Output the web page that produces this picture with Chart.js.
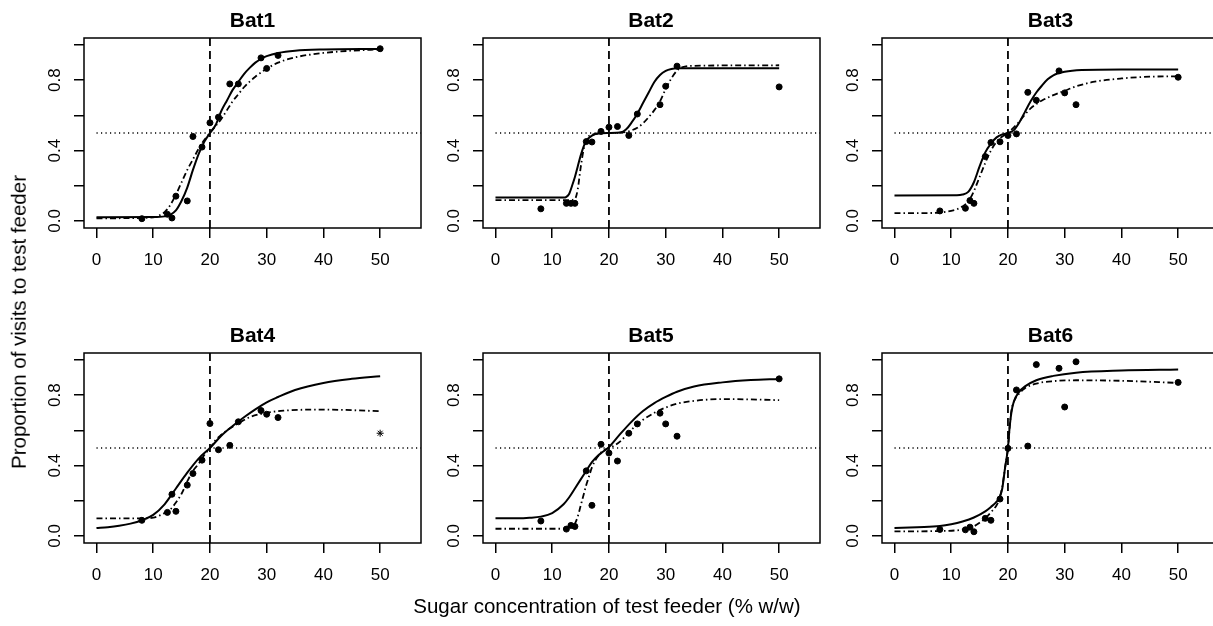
<!DOCTYPE html>
<html>
<head>
<meta charset="utf-8">
<script src="https://cdn.jsdelivr.net/npm/chart.js@4.4.0/dist/chart.umd.min.js"></script>
<style>
html,body{margin:0;padding:0;background:#fff;}
#wrap{position:relative;width:1213px;height:626px;overflow:hidden;background:#fff;font-family:"Liberation Sans",Arial,Helvetica,sans-serif;color:#000;}
.pc{position:absolute;width:431px;height:300px;}
.pc canvas{display:block;}
.ttl{position:absolute;font-weight:bold;font-size:21px;line-height:1;transform:translate(-50%,-50%);white-space:nowrap;z-index:5;}
#xt{position:absolute;left:607px;top:606px;font-size:20.5px;line-height:1;transform:translate(-50%,-50%);white-space:nowrap;z-index:5;}
#yt{position:absolute;left:19px;top:322px;font-size:20.5px;line-height:1;transform:translate(-50%,-50%) rotate(-90deg);white-space:nowrap;z-index:5;}
</style>
</head>
<body>
<div id="wrap">
  <div id="xt">Sugar concentration of test feeder (% w/w)</div>
  <div id="yt">Proportion of visits to test feeder</div>
</div>
<script>
// ---------- data ----------
const titles = ["Bat1", "Bat2", "Bat3", "Bat4", "Bat5", "Bat6"];
const concentrations = [8, 12.5, 13.3, 14, 16, 17, 18.6, 20, 21.5, 23.5, 25, 29, 30, 32, 50];
const xTickValues = [0, 10, 20, 30, 40, 50];
const yTickValues = [0, 0.2, 0.4, 0.6, 0.8, 1.0];
const yLabelValues = [0, 0.4, 0.8];
const referenceConcentration = 20;
const referenceProportion = 0.5;
const starredConcentrationBat4 = 50;

const bat1Obs = [0.013, 0.038, 0.017, 0.141, 0.114, 0.48, 0.42, 0.558, 0.59, 0.779, 0.779, 0.927, 0.867, 0.941, 0.979];
const bat2Obs = [0.069, 0.10, 0.10, 0.10, 0.451, 0.449, 0.509, 0.533, 0.537, 0.486, 0.608, 0.661, 0.766, 0.88, 0.762];
const bat3Obs = [0.057, 0.072, 0.116, 0.10, 0.366, 0.446, 0.45, 0.486, 0.495, 0.731, 0.686, 0.853, 0.728, 0.661, 0.817];
const bat4Obs = [0.089, 0.134, 0.237, 0.14, 0.289, 0.355, 0.431, 0.639, 0.49, 0.515, 0.649, 0.713, 0.692, 0.673, 0.584];
const bat5Obs = [0.085, 0.039, 0.06, 0.054, 0.37, 0.174, 0.521, 0.471, 0.426, 0.584, 0.637, 0.698, 0.637, 0.567, 0.893];
const bat6Obs = [0.037, 0.035, 0.05, 0.024, 0.10, 0.089, 0.21, 0.498, 0.83, 0.511, 0.974, 0.953, 0.733, 0.99, 0.873];

const bat1SolidX = [0, 10, 12, 13, 14, 15, 16, 17, 18, 19, 20, 21, 22, 23, 24, 25, 26, 27, 28, 29, 30, 32, 35, 40, 50];
const bat1SolidY = [0.021, 0.022, 0.026, 0.035, 0.06, 0.115, 0.19, 0.29, 0.38, 0.45, 0.5, 0.545, 0.625, 0.685, 0.745, 0.79, 0.835, 0.87, 0.9, 0.922, 0.937, 0.955, 0.968, 0.975, 0.978];
const bat1DashX = [0, 10, 11, 12, 13, 14, 15, 16, 17, 18, 19, 20, 21, 22, 23, 24, 25, 26, 28, 30, 32, 35, 40, 45, 50];
const bat1DashY = [0.015, 0.02, 0.03, 0.05, 0.09, 0.15, 0.22, 0.29, 0.35, 0.41, 0.46, 0.5, 0.54, 0.58, 0.63, 0.68, 0.72, 0.76, 0.82, 0.865, 0.9, 0.93, 0.955, 0.968, 0.975];

const bat2SolidX = [0, 12, 12.5, 13, 13.5, 14, 14.5, 15, 15.5, 16, 17, 18, 20, 22, 23, 24, 25, 26, 27, 28, 29, 30, 31, 32, 50];
const bat2SolidY = [0.133, 0.133, 0.137, 0.155, 0.2, 0.25, 0.31, 0.37, 0.42, 0.455, 0.485, 0.497, 0.5, 0.503, 0.52, 0.56, 0.61, 0.67, 0.73, 0.79, 0.83, 0.853, 0.864, 0.868, 0.868];
const bat2DashX = [0, 13, 14, 14.5, 15, 15.5, 16, 17, 20, 23, 24, 25, 26, 27, 28, 29, 30, 31, 32, 33, 35, 50];
const bat2DashY = [0.118, 0.118, 0.125, 0.18, 0.30, 0.40, 0.46, 0.49, 0.5, 0.505, 0.515, 0.53, 0.555, 0.59, 0.63, 0.68, 0.75, 0.81, 0.855, 0.875, 0.882, 0.885];

const bat3SolidX = [0, 11, 12, 13, 14, 15, 16, 17, 18, 19, 20, 21, 22, 23, 24, 25, 26, 27, 28, 30, 33, 40, 50];
const bat3SolidY = [0.145, 0.146, 0.15, 0.165, 0.22, 0.31, 0.39, 0.44, 0.475, 0.492, 0.5, 0.515, 0.56, 0.62, 0.68, 0.73, 0.77, 0.805, 0.828, 0.848, 0.858, 0.861, 0.861];
const bat3DashX = [0, 6, 8, 10, 11, 12, 13, 14, 15, 16, 17, 18, 19, 20, 21, 22, 23, 24, 25, 26, 28, 30, 32, 35, 40, 45, 50];
const bat3DashY = [0.044, 0.045, 0.048, 0.058, 0.066, 0.083, 0.11, 0.17, 0.25, 0.33, 0.40, 0.45, 0.48, 0.5, 0.53, 0.565, 0.605, 0.64, 0.665, 0.685, 0.715, 0.74, 0.765, 0.79, 0.81, 0.82, 0.822];

const bat4SolidX = [0, 2, 4, 6, 8, 10, 12, 14, 16, 18, 20, 22, 24, 26, 28, 30, 32, 35, 40, 45, 50];
const bat4SolidY = [0.045, 0.05, 0.058, 0.07, 0.089, 0.12, 0.18, 0.27, 0.36, 0.44, 0.5, 0.57, 0.625, 0.675, 0.72, 0.76, 0.79, 0.83, 0.87, 0.893, 0.908];
const bat4DashX = [0, 8, 10, 12, 13, 14, 15, 16, 17, 18, 19, 20, 21, 22, 23, 25, 27, 30, 33, 38, 43, 50];
const bat4DashY = [0.10, 0.10, 0.104, 0.13, 0.15, 0.19, 0.24, 0.31, 0.37, 0.41, 0.46, 0.5, 0.545, 0.575, 0.6, 0.64, 0.675, 0.70, 0.712, 0.718, 0.717, 0.709];

const bat5SolidX = [0, 4, 6, 8, 10, 12, 13, 14, 15, 16, 17, 18, 19, 20, 22, 24, 26, 28, 30, 32, 35, 40, 45, 50];
const bat5SolidY = [0.10, 0.10, 0.103, 0.11, 0.13, 0.18, 0.22, 0.27, 0.32, 0.37, 0.42, 0.455, 0.48, 0.505, 0.58, 0.65, 0.71, 0.755, 0.79, 0.82, 0.85, 0.873, 0.886, 0.892];
const bat5DashX = [0, 13, 13.5, 14, 14.5, 15, 15.5, 16, 16.5, 17, 18, 19, 20, 21, 22, 23, 24, 25, 26, 28, 30, 32, 35, 40, 45, 50];
const bat5DashY = [0.041, 0.041, 0.045, 0.07, 0.11, 0.17, 0.23, 0.29, 0.34, 0.39, 0.45, 0.485, 0.5, 0.515, 0.538, 0.57, 0.605, 0.635, 0.66, 0.70, 0.73, 0.752, 0.768, 0.778, 0.776, 0.772];

const bat6SolidX = [0, 4, 8, 10, 12, 14, 16, 17, 18, 18.5, 19, 19.5, 20, 20.3, 20.6, 21, 22, 23, 25, 28, 32, 40, 50];
const bat6SolidY = [0.045, 0.05, 0.056, 0.066, 0.082, 0.105, 0.14, 0.165, 0.195, 0.22, 0.27, 0.39, 0.5, 0.62, 0.70, 0.76, 0.82, 0.85, 0.885, 0.91, 0.928, 0.94, 0.946];
const bat6DashX = [0, 8, 11, 12, 13, 14, 15, 16, 17, 18, 18.5, 19, 19.5, 20, 20.3, 20.6, 21, 22, 23, 25, 28, 32, 40, 50];
const bat6DashY = [0.026, 0.028, 0.032, 0.036, 0.043, 0.055, 0.075, 0.10, 0.135, 0.175, 0.21, 0.28, 0.39, 0.5, 0.62, 0.71, 0.76, 0.81, 0.84, 0.866, 0.88, 0.885, 0.882, 0.87];

// ---------- layout ----------
const X_MIN = -2.2, X_MAX = 57.2, Y_MIN = -0.04, Y_MAX = 1.04;
const boxLeft = [84, 482.5, 882];
const boxTop = [38, 353];
const BOX_W = 337, BOX_H = 190;
const FONT = '"Liberation Sans", Arial, Helvetica, sans-serif';

const panels = [
  {obs: bat1Obs, sx: bat1SolidX, sy: bat1SolidY, dx: bat1DashX, dy: bat1DashY},
  {obs: bat2Obs, sx: bat2SolidX, sy: bat2SolidY, dx: bat2DashX, dy: bat2DashY},
  {obs: bat3Obs, sx: bat3SolidX, sy: bat3SolidY, dx: bat3DashX, dy: bat3DashY},
  {obs: bat4Obs, sx: bat4SolidX, sy: bat4SolidY, dx: bat4DashX, dy: bat4DashY, star: starredConcentrationBat4},
  {obs: bat5Obs, sx: bat5SolidX, sy: bat5SolidY, dx: bat5DashX, dy: bat5DashY},
  {obs: bat6Obs, sx: bat6SolidX, sy: bat6SolidY, dx: bat6DashX, dy: bat6DashY}
];

const rPlot = {
  id: 'rPlot',
  afterDraw(chart) {
    const ctx = chart.ctx, a = chart.chartArea, y = chart.scales.y;
    ctx.save();
    ctx.strokeStyle = '#000';
    ctx.lineWidth = 1.5;
    ctx.strokeRect(a.left, a.top, a.right - a.left, a.bottom - a.top);
    ctx.fillStyle = '#000';
    ctx.font = '17px ' + FONT;
    ctx.textAlign = 'center';
    ctx.textBaseline = 'middle';
    yLabelValues.forEach(v => {
      const py = y.getPixelForValue(v);
      ctx.save();
      ctx.translate(a.left - 29, py);
      ctx.rotate(-Math.PI / 2);
      ctx.fillText(v.toFixed(1), 0, 0);
      ctx.restore();
    });
    ctx.restore();
  }
};

const wrap = document.getElementById('wrap');

panels.forEach((p, i) => {
  const col = i % 3, row = Math.floor(i / 3);
  const L = boxLeft[col], T = boxTop[row];

  const ttl = document.createElement('div');
  ttl.className = 'ttl';
  ttl.textContent = titles[i];
  ttl.style.left = (L + BOX_W / 2) + 'px';
  ttl.style.top = (T - 19.5) + 'px';
  wrap.appendChild(ttl);

  const div = document.createElement('div');
  div.className = 'pc';
  div.style.left = (L - 84) + 'px';
  div.style.top = (T - 38) + 'px';
  const cv = document.createElement('canvas');
  cv.width = 431; cv.height = 300;
  cv.style.width = '431px'; cv.style.height = '300px';
  div.appendChild(cv);
  wrap.appendChild(div);

  const obsPts = concentrations.map((x, k) => ({x: x, y: p.obs[k]}));
  const styles = concentrations.map(x => (p.star !== undefined && x === p.star) ? 'star' : 'circle');
  const radii = concentrations.map(x => (p.star !== undefined && x === p.star) ? 3.5 : 3);

  new Chart(cv.getContext('2d'), {
    type: 'scatter',
    data: {
      datasets: [
        {
          data: obsPts, showLine: false, pointStyle: styles, pointRadius: radii,
          backgroundColor: '#000', borderColor: '#000', borderWidth: 1, order: 0
        },
        {
          data: p.sx.map((x, k) => ({x: x, y: p.sy[k]})), showLine: true, pointRadius: 0,
          borderColor: '#000', borderWidth: 2, cubicInterpolationMode: 'monotone', order: 1
        },
        {
          data: p.dx.map((x, k) => ({x: x, y: p.dy[k]})), showLine: true, pointRadius: 0,
          borderColor: '#000', borderWidth: 1.8, borderDash: [6, 3, 1.5, 3], cubicInterpolationMode: 'monotone', order: 2
        },
        {
          data: [{x: referenceConcentration, y: Y_MIN}, {x: referenceConcentration, y: Y_MAX}], showLine: true, pointRadius: 0,
          borderColor: '#000', borderWidth: 1.8, borderDash: [8, 5], order: 3
        },
        {
          data: [{x: 0, y: referenceProportion}, {x: X_MAX, y: referenceProportion}], showLine: true, pointRadius: 0,
          borderColor: '#000', borderWidth: 1.3, borderDash: [1.2, 3.3], order: 4
        }
      ]
    },
    options: {
      responsive: false,
      maintainAspectRatio: false,
      animation: false,
      devicePixelRatio: 1,
      layout: {padding: {left: 0, right: 10, top: 38, bottom: 0}},
      plugins: {legend: {display: false}, tooltip: {enabled: false}, title: {display: false}},
      scales: {
        x: {
          type: 'linear', min: X_MIN, max: X_MAX,
          afterBuildTicks: s => { s.ticks = xTickValues.map(v => ({value: v})); },
          afterFit: s => { s.height = 72; },
          border: {display: false},
          grid: {display: true, drawOnChartArea: false, drawTicks: true, tickLength: 10, color: '#000', lineWidth: 1.5},
          ticks: {color: '#000', font: {size: 17, family: FONT}, padding: 12, maxRotation: 0, autoSkip: false,
                  callback: v => String(v)}
        },
        y: {
          type: 'linear', min: Y_MIN, max: Y_MAX,
          afterBuildTicks: s => { s.ticks = yTickValues.map(v => ({value: v})); },
          afterFit: s => { s.width = 84; },
          border: {display: false},
          grid: {display: true, drawOnChartArea: false, drawTicks: true, tickLength: 10, color: '#000', lineWidth: 1.5},
          ticks: {display: false}
        }
      }
    },
    plugins: [rPlot]
  });
});
</script>
</body>
</html>
